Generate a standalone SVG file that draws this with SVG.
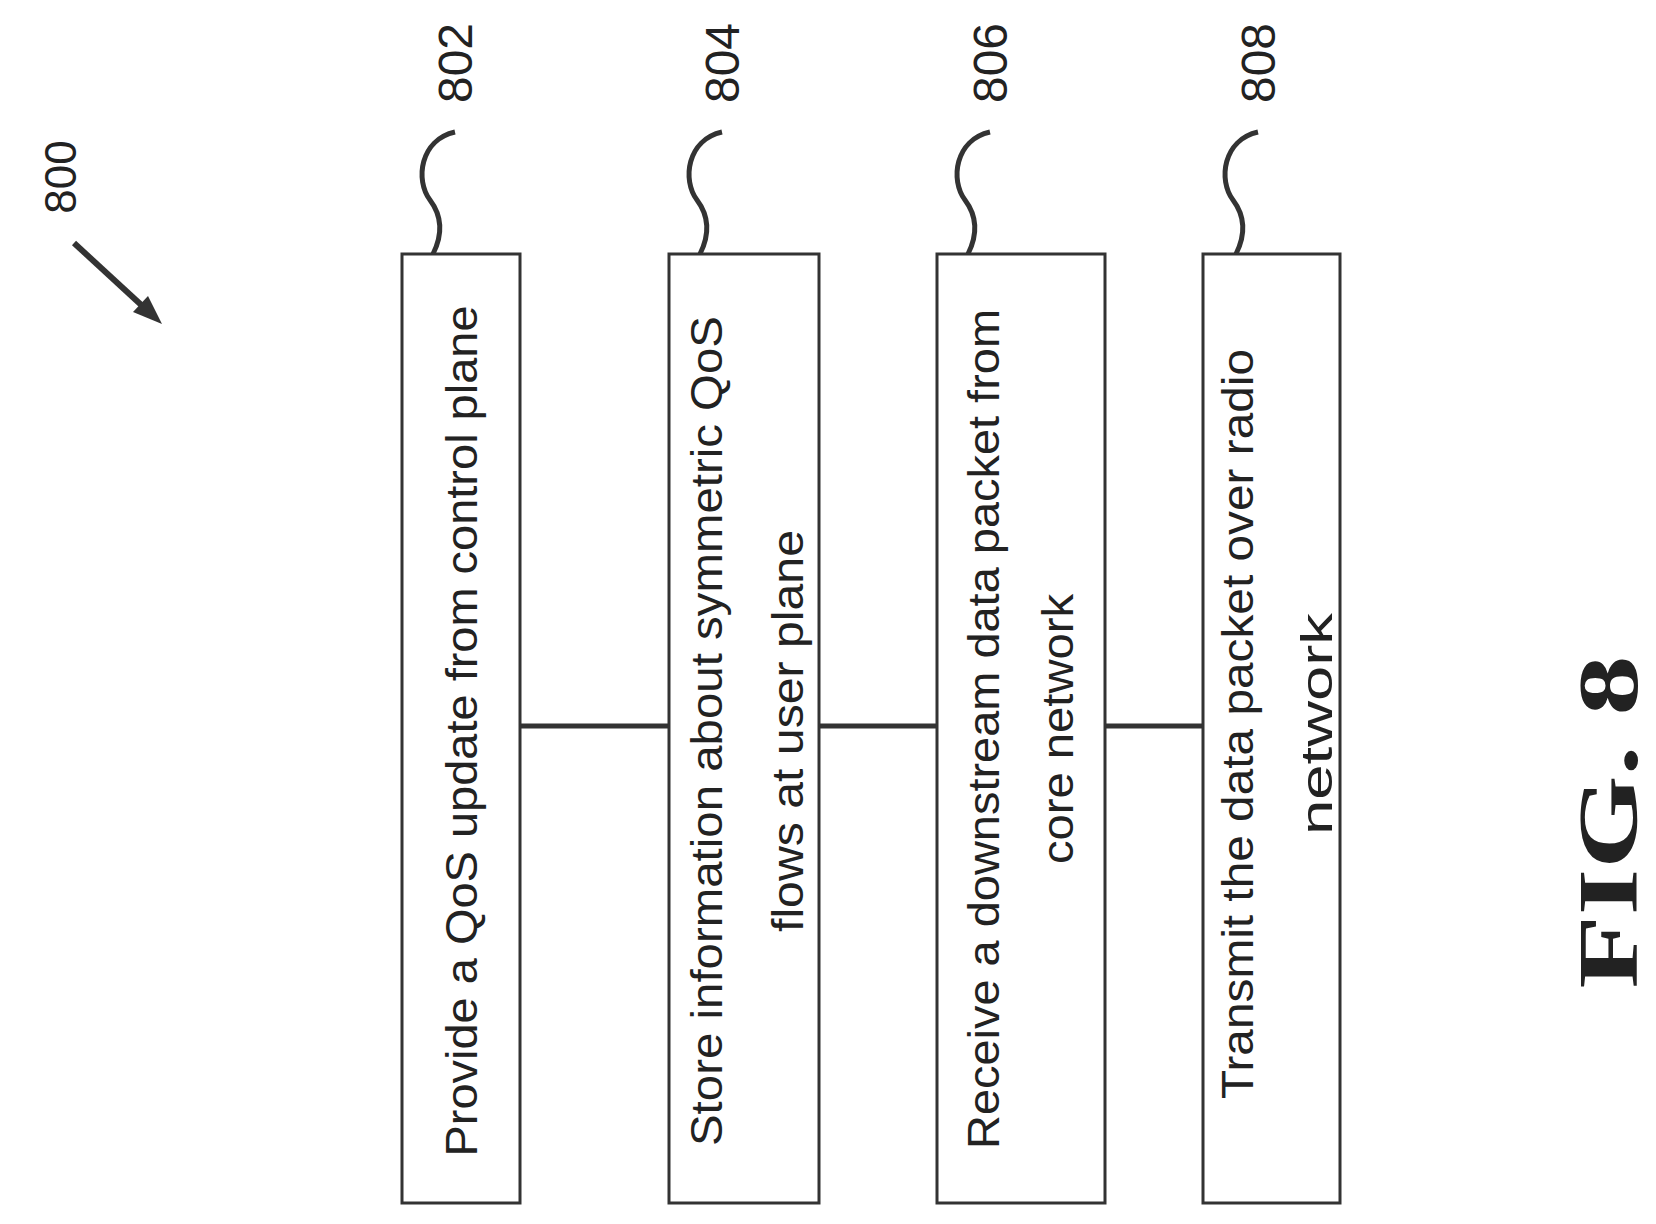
<svg xmlns="http://www.w3.org/2000/svg" width="1656" height="1224" viewBox="0 0 1656 1224">
<style>
.b{fill:#fff;stroke:#333;stroke-width:3}
.t{font-family:"Liberation Sans",Arial,sans-serif;font-size:44px;fill:#222;text-anchor:middle}
.l{font-family:"Liberation Sans",Arial,sans-serif;font-size:48px;fill:#222;text-anchor:middle}
.c{stroke:#333;stroke-width:5;fill:none}
</style>
<rect width="1656" height="1224" fill="#fff"/>
<g id="connectors">
<line class="c" x1="520" y1="726" x2="669" y2="726"/>
<line class="c" x1="819" y1="726" x2="937" y2="726"/>
<line class="c" x1="1105" y1="726" x2="1203" y2="726"/>
<path class="c" d="M455,132 C420,140 415,180 430,200 C445,220 440,240 433,254"/>
<path class="c" d="M722,132 C687,140 682,180 697,200 C712,220 707,240 700,254"/>
<path class="c" d="M990,132 C955,140 950,180 965,200 C980,220 975,240 968,254"/>
<path class="c" d="M1258,132 C1223,140 1218,180 1233,200 C1248,220 1243,240 1236,254"/>
<line x1="74" y1="243" x2="150" y2="313" stroke="#333" stroke-width="6"/>
<path d="M162,324 L133,312 L148,296 z" fill="#333"/>
</g>
<g id="n800"><text class="l" style="font-size:44px" transform="translate(76,177) rotate(-90)">800</text></g>
<g id="n802"><text class="l" transform="translate(472,63) rotate(-90)">802</text></g>
<g id="n804"><text class="l" transform="translate(739,63) rotate(-90)">804</text></g>
<g id="n806"><text class="l" transform="translate(1007,63) rotate(-90)">806</text></g>
<g id="n808"><text class="l" transform="translate(1275,63) rotate(-90)">808</text></g>
<g id="box1"><rect class="b" x="402" y="254" width="118" height="949"/>
<text class="t" textLength="851" lengthAdjust="spacingAndGlyphs" transform="translate(477,731) rotate(-90)">Provide a QoS update from control plane</text></g>
<g id="box2"><rect class="b" x="669" y="254" width="150" height="949"/>
<text class="t" textLength="830" lengthAdjust="spacingAndGlyphs" transform="translate(722,731) rotate(-90)">Store information about symmetric QoS</text>
<text class="t" textLength="402" lengthAdjust="spacingAndGlyphs" transform="translate(803,731) rotate(-90)">flows at user plane</text></g>
<g id="box3"><rect class="b" x="937" y="254" width="168" height="949"/>
<text class="t" textLength="840" lengthAdjust="spacingAndGlyphs" transform="translate(999,729) rotate(-90)">Receive a downstream data packet from</text>
<text class="t" textLength="270" lengthAdjust="spacingAndGlyphs" transform="translate(1073,729) rotate(-90)">core network</text></g>
<g id="box4"><rect class="b" x="1203" y="254" width="137" height="949"/>
<text class="t" textLength="750" lengthAdjust="spacingAndGlyphs" transform="translate(1253,724) rotate(-90)">Transmit the data packet over radio</text>
<text class="t" textLength="222" lengthAdjust="spacingAndGlyphs" transform="translate(1332,724) rotate(-90)">network</text></g>
<g id="fig"><text transform="translate(1637,822) rotate(-90)" text-anchor="middle" textLength="333" lengthAdjust="spacingAndGlyphs" font-family="Liberation Serif,Times New Roman,serif" font-weight="bold" font-size="84" fill="#222">FIG. 8</text></g>
</svg>
